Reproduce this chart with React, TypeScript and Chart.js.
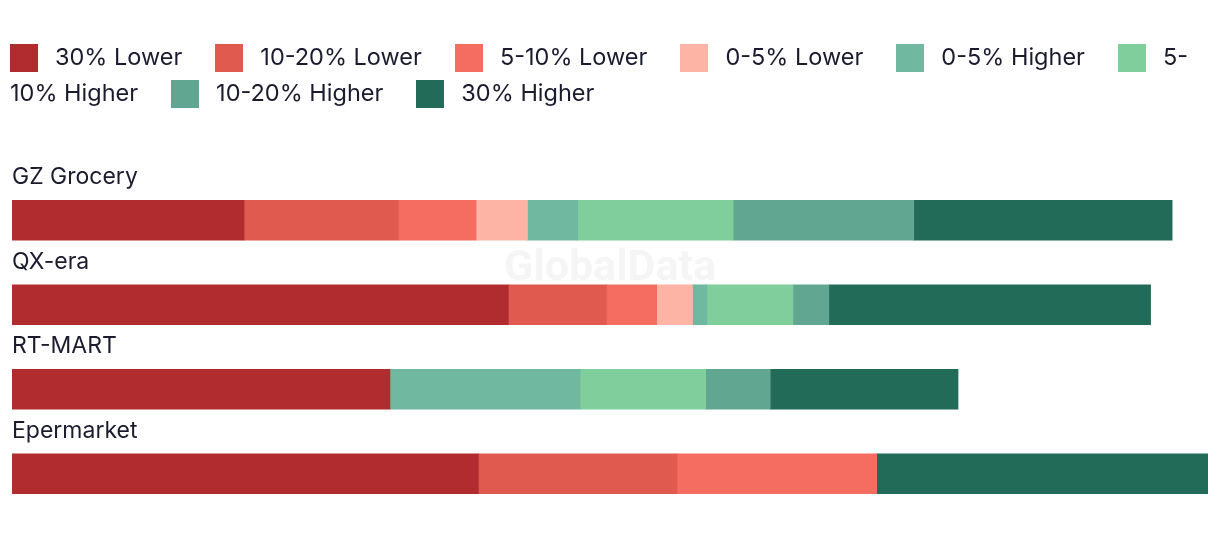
import React, { useEffect, useRef } from "react";
import { Chart, registerables } from "chart.js";

Chart.register(...registerables);

const categories = ["GZ Grocery", "QX-era", "RT-MART", "Epermarket"];

const seriesLabels = [
  "30% Lower",
  "10-20% Lower",
  "5-10% Lower",
  "0-5% Lower",
  "0-5% Higher",
  "5-10% Higher",
  "10-20% Higher",
  "30% Higher",
];

const seriesColors = [
  "#B02C2E",
  "#E05A4F",
  "#F46D60",
  "#FEB4A5",
  "#70B8A0",
  "#7FCE9C",
  "#61A690",
  "#216B58",
];

const lower30 = [19.4, 41.5, 31.6, 39.0];
const lower10to20 = [12.9, 8.2, 0, 16.6];
const lower5to10 = [6.5, 4.2, 0, 16.7];
const lower0to5 = [4.3, 3.0, 0, 0];
const higher0to5 = [4.2, 1.2, 15.9, 0];
const higher5to10 = [13.0, 7.2, 10.5, 0];
const higher10to20 = [15.1, 3.0, 5.4, 0];
const higher30 = [21.6, 26.9, 15.7, 27.7];

const seriesValues = [
  lower30,
  lower10to20,
  lower5to10,
  lower0to5,
  higher0to5,
  higher5to10,
  higher10to20,
  higher30,
];

const FONT = "Inter, 'Noto Sans', 'Liberation Sans', sans-serif";
const TEXT_COLOR = "#1B1B2F";

export default function App() {
  const canvasRef = useRef<HTMLCanvasElement | null>(null);

  useEffect(() => {
    const canvas = canvasRef.current;
    if (!canvas) return;
    const totals = categories.map((_, i) =>
      seriesValues.reduce((s, arr) => s + arr[i], 0)
    );
    const maxTotal = Math.max(...totals);

    const labelPlugin = {
      id: "catLabels",
      afterDatasetsDraw(chart: any) {
        const { ctx, scales, chartArea } = chart;
        const y = scales.y;
        ctx.save();
        ctx.font = `23px ${FONT}`;
        ctx.fillStyle = TEXT_COLOR;
        ctx.textAlign = "left";
        ctx.textBaseline = "alphabetic";
        categories.forEach((c, i) => {
          const cy = y.getPixelForValue(i);
          ctx.fillText(c, chartArea.left, cy - 20 - 16);
        });
        ctx.font = `bold 43px Roboto, ${FONT}`;
        ctx.fillStyle = "rgba(215,215,215,0.25)";
        ctx.textAlign = "center";
        ctx.textBaseline = "middle";
        ctx.fillText("GlobalData", chart.width / 2, chart.height / 2);
        ctx.restore();
      },
    };

    const chart = new Chart(canvas, {
      type: "bar",
      data: {
        labels: categories,
        datasets: seriesLabels.map((label, k) => ({
          label,
          data: seriesValues[k].map((v) => (v === 0 ? null : v)),
          backgroundColor: seriesColors[k],
          borderWidth: 0,
          barThickness: 40,
        })),
      },
      options: {
        indexAxis: "y",
        responsive: true,
        maintainAspectRatio: false,
        animation: false,
        layout: { padding: { left: 12, right: 12, top: 178, bottom: 22 } },
        plugins: {
          legend: { display: false },
          tooltip: { enabled: false },
        },
        scales: {
          x: { display: false, stacked: true, min: 0, max: maxTotal },
          y: { display: false, stacked: true },
        },
      },
      plugins: [labelPlugin],
    });
    return () => chart.destroy();
  }, []);

  return (
    <div
      style={{
        position: "fixed",
        left: 0,
        top: 0,
        width: 1220,
        height: 538,
        background: "#fff",
        overflow: "hidden",
      }}
    >
      <div style={{ position: "absolute", left: 0, top: 0, width: 1220, height: 538 }}>
        <canvas ref={canvasRef} />
      </div>
      <div
        style={{
          position: "absolute",
          left: 10,
          top: 39,
          width: 1200,
          fontFamily: FONT,
          fontSize: 23.5,
          lineHeight: "36px",
          color: TEXT_COLOR,
        }}
      >
        {seriesLabels.map((label, k) => (
          <span key={label} style={{ marginRight: 33 }}>
            <span
              style={{
                display: "inline-block",
                width: 28,
                height: 28,
                background: seriesColors[k],
                verticalAlign: "middle",
                marginRight: 17,
                position: "relative",
                top: -1,
              }}
            />
            {label}
          </span>
        ))}
      </div>
    </div>
  );
}
